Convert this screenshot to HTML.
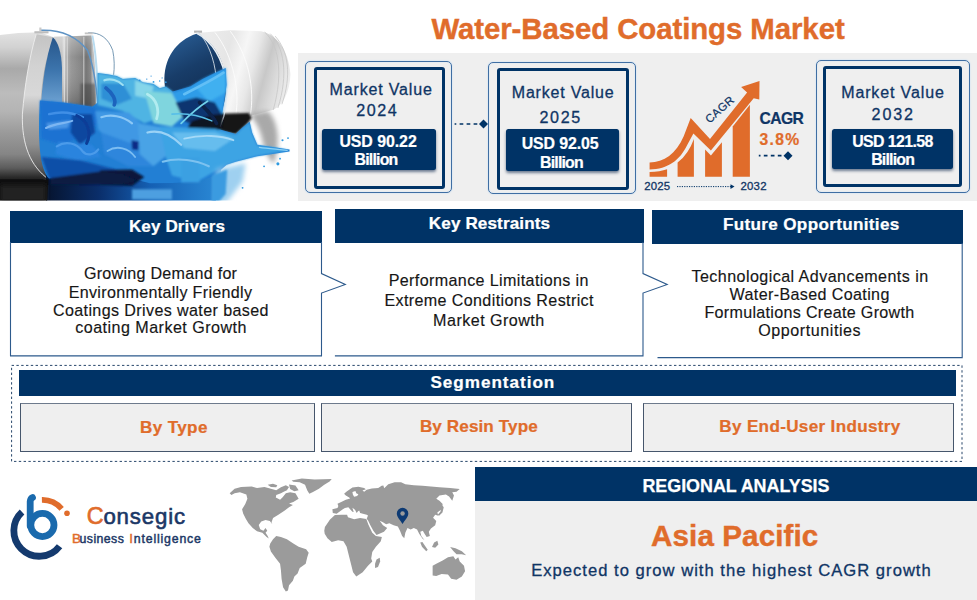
<!DOCTYPE html>
<html lang="en"><head><meta charset="utf-8"><title>Water-Based Coatings Market</title>
<style>
html,body{margin:0;padding:0;background:#fff;}
#pg{position:relative;width:977px;height:600px;overflow:hidden;background:#fff;font-family:"Liberation Sans",sans-serif;}
.t{position:absolute;white-space:nowrap;line-height:1;}
.a{position:absolute;box-sizing:border-box;}
.hd{background:#003366;}
.ob{border:1px solid #3f6ea3;border-radius:5px;box-shadow:0 0 1.5px rgba(170,212,250,.95),inset 0 0 1.5px rgba(170,212,250,.7);}
.ib{border:3px solid #003366;border-radius:3px;}
.vb{background:#003366;border-radius:2.5px;box-shadow:0 2px 3px rgba(0,30,70,.55);}
.sg{background:#efefef;border:1px solid #46566c;border-top-color:#6d7a8c;}
</style></head>
<body><div id="pg">
<svg class="a" style="left:0;top:0" width="300" height="202" viewBox="0 0 300 202">
<defs>
 <clipPath id="pc"><rect x="0" y="0" width="298" height="200.5"/></clipPath>
 <filter id="b0" x="-10%" y="-10%" width="120%" height="120%"><feGaussianBlur stdDeviation="1.2"/></filter>
 <filter id="b1" x="-10%" y="-10%" width="120%" height="120%"><feGaussianBlur stdDeviation="4"/></filter>
 <filter id="b2" x="-15%" y="-15%" width="130%" height="130%"><feGaussianBlur stdDeviation="8"/></filter>
 <filter id="b3" x="-30%" y="-30%" width="160%" height="160%"><feGaussianBlur stdDeviation="14"/></filter>
 <linearGradient id="gL" x1="0" y1="33" x2="0" y2="530" gradientUnits="userSpaceOnUse">
  <stop offset="0" stop-color="#e2e2e2"/><stop offset=".1" stop-color="#d2d2d2"/><stop offset=".24" stop-color="#a9a9a9"/>
  <stop offset=".4" stop-color="#bcbcbc"/><stop offset=".52" stop-color="#b4b4b4"/><stop offset=".66" stop-color="#9a9a9a"/>
  <stop offset=".8" stop-color="#858585"/><stop offset=".89" stop-color="#5c5c5c"/><stop offset=".95" stop-color="#2a2a2a"/><stop offset="1" stop-color="#0e0e0e"/>
 </linearGradient>
 <linearGradient id="gW" x1="0" y1="33" x2="0" y2="520" gradientUnits="userSpaceOnUse">
  <stop offset="0" stop-color="#c2c2c2"/><stop offset=".22" stop-color="#d2d2d2"/><stop offset=".42" stop-color="#d8d8d8"/>
  <stop offset=".56" stop-color="#ababab"/><stop offset=".75" stop-color="#909090"/><stop offset=".9" stop-color="#5e5e5e"/><stop offset="1" stop-color="#2a2a2a"/>
 </linearGradient>
 <linearGradient id="gI" x1="0" y1="50" x2="0" y2="260" gradientUnits="userSpaceOnUse">
  <stop offset="0" stop-color="#27568b"/><stop offset=".5" stop-color="#3c74ac"/><stop offset="1" stop-color="#6a9fd0"/>
 </linearGradient>
 <linearGradient id="gM" x1="202" y1="0" x2="302" y2="0" gradientUnits="userSpaceOnUse">
  <stop offset="0" stop-color="#c4c4c4"/><stop offset=".06" stop-color="#dcdcdc"/><stop offset=".14" stop-color="#acacac"/>
  <stop offset=".3" stop-color="#969696"/><stop offset=".6" stop-color="#858585"/><stop offset=".8" stop-color="#747474"/><stop offset=".93" stop-color="#858585"/><stop offset="1" stop-color="#bdbdbd"/>
 </linearGradient>
 <linearGradient id="gMv" x1="0" y1="45" x2="0" y2="275" gradientUnits="userSpaceOnUse">
  <stop offset="0" stop-color="#fff" stop-opacity=".3"/><stop offset=".3" stop-color="#fff" stop-opacity="0"/><stop offset="1" stop-color="#000" stop-opacity=".25"/>
 </linearGradient>
 <linearGradient id="gR" x1="650" y1="150" x2="940" y2="230" gradientUnits="userSpaceOnUse">
  <stop offset="0" stop-color="#ebebeb"/><stop offset=".25" stop-color="#e6e6e6"/><stop offset=".42" stop-color="#f6f6f6"/>
  <stop offset=".55" stop-color="#e8e8e8"/><stop offset=".7" stop-color="#c8c8c8"/><stop offset=".82" stop-color="#dadada"/><stop offset="1" stop-color="#f0f0f0"/>
 </linearGradient>
 <linearGradient id="gO" x1="560" y1="60" x2="700" y2="330" gradientUnits="userSpaceOnUse">
  <stop offset="0" stop-color="#27598f"/><stop offset=".35" stop-color="#183d69"/><stop offset="1" stop-color="#0c2242"/>
 </linearGradient>
 <linearGradient id="gF" x1="150" y1="0" x2="720" y2="0" gradientUnits="userSpaceOnUse">
  <stop offset="0" stop-color="#06142f"/><stop offset=".3" stop-color="#0a2e6a"/><stop offset=".6" stop-color="#1560b4"/><stop offset="1" stop-color="#2b8ad6"/>
 </linearGradient>
</defs>
<g clip-path="url(#pc)">
<g transform="translate(0 22) scale(0.30706)">
 <!-- left can body -->
 <path d="M0 42 L60 36 L130 33 L175 50 L205 120 V300 L160 512 L0 530 Z" fill="url(#gL)"/>
 <!-- inner wall band (between rim line and interior) -->
 <path d="M118 40 C96 110 80 210 73 300 C70 400 100 470 158 512 L170 500 C140 450 128 380 132 260 C136 190 150 110 172 50 Z" fill="url(#gW)"/>
 <path d="M118 40 C96 110 80 210 73 300 C70 400 100 470 158 512" fill="none" stroke="#ececec" stroke-width="3"/>
 <!-- middle can -->
 <path d="M176 48 L298 44 C310 110 312 200 312 278 L190 278 Z" fill="url(#gM)"/>
 <path d="M176 48 L298 44 C310 110 312 200 312 278 L190 278 Z" fill="url(#gMv)"/>
 <path d="M262 200 L310 200 L312 278 L262 278 Z" fill="#4a4a4a" opacity=".55" filter="url(#b1)"/>
 <path d="M210 50 V275 M219 50 V275 M273 48 V275" stroke="#e4e4e4" stroke-width="2.5" fill="none"/>
 <path d="M298 44 C312 110 314 200 313 278 L322 278 C322 200 318 110 304 44 Z" fill="#b9dcf0"/>
 <!-- left can interior -->
 <path d="M172 50 C150 115 136 200 132 300 L202 300 V150 C200 100 190 66 172 50 Z" fill="url(#gI)"/>
 <!-- handles -->
 <path d="M132 27 C200 24 250 48 285 92 C305 140 315 220 320 282" fill="none" stroke="#5f93c4" stroke-width="5"/>
 <path d="M287 35 C325 33 352 52 367 92 C373 120 373 150 370 172" fill="none" stroke="#7598b4" stroke-width="3.2"/>
 <rect x="112" y="30" width="46" height="7" fill="#bdbdbd"/><rect x="128" y="18" width="7" height="14" fill="#c9c9c9"/>
 <rect x="276" y="34" width="26" height="6" fill="#c4c4c4"/>

 <!-- right can body -->
 <path d="M640 36 L750 27 L850 30 C900 40 940 90 946 170 C944 230 920 272 890 286 L715 332 C722 250 700 120 650 40 Z" fill="url(#gR)"/>
 <g stroke="#c6c6c6" stroke-width="2.6" fill="none">
  <path d="M862 33 C905 70 925 160 890 286"/><path d="M880 38 C925 80 940 170 905 280"/><path d="M896 46 C940 95 950 175 918 268"/>
 </g>
 <g stroke="#fcfcfc" stroke-width="3" fill="none"><path d="M700 34 C760 110 785 230 765 318"/><path d="M750 30 C810 110 830 220 815 305"/></g>
 <rect x="632" y="28" width="26" height="7" fill="#b5b5b5"/>
 <!-- shadow + reflection under right can -->
 <path d="M812 300 L872 290 C905 320 915 390 892 462 C876 450 862 420 856 392 C850 360 838 330 812 300 Z" fill="#a9a9a9" filter="url(#b2)"/>
 <path d="M613 350 L628 320 L700 300 L740 298 L810 296 L820 312 L808 330 L788 350 L768 366 L700 358 Z" fill="#161616" filter="url(#b1)"/>
 <!-- right can opening -->
 <path d="M640 38 C575 58 530 120 536 200 C542 300 600 352 665 345 C720 335 745 250 733 170 C722 105 685 55 640 38 Z" fill="url(#gO)"/>
 <path d="M640 36 C690 62 728 120 737 200 C742 250 735 300 716 340" fill="none" stroke="#e9eef2" stroke-width="5"/>
 <path d="M643 32 C676 60 698 120 704 180 C708 230 708 260 706 290" fill="none" stroke="#cfd9e2" stroke-width="3"/>

 <!-- floor reflection -->
 <path d="M150 480 H720 L700 600 H150 Z" fill="url(#gF)"/>
 <!-- PAINT base -->
 <path d="M130 256 L205 262 L262 270 L300 276 L318 262 L318 166 L350 170 L380 176 L400 186 L440 182 L466 196 L500 202 L520 216 L540 210 L562 226 L620 210 L660 186 L700 166 L735 150 L738 205 L722 310 L700 345 L768 365 L788 345 L813 325 L821 360 L838 400 L888 407 L943 415 L943 422 L888 430 L838 437 L768 455 L738 465 L700 500 L640 520 L560 524 L488 525 L450 515 L400 496 L350 486 L250 490 L160 510 C120 470 126 330 130 256 Z" fill="#227fd4"/>
 <g filter="url(#b1)">
  <!-- C upper middle light -->
  <path d="M318 166 L380 176 L400 186 L440 182 L466 196 L500 202 L520 216 L540 210 L562 226 L560 300 L470 330 L400 290 L318 270 Z" fill="#4fb4e3"/>
  <path d="M330 200 L400 200 L430 250 L380 270 L330 250 Z" fill="#2f8fd6"/>
  <path d="M440 190 L500 210 L490 250 L440 240 Z" fill="#86d6ea"/>
  <!-- D cyan-green -->
  <path d="M470 225 L560 232 L610 218 L605 300 L560 340 L500 330 Z" fill="#7fd5de"/>
  <!-- E stream -->
  <path d="M560 232 L620 210 L660 186 L700 166 L735 150 L738 205 L722 310 L640 330 L595 300 Z" fill="#2f9ce8"/>
  <path d="M640 215 L735 160 L735 230 L680 260 Z" fill="#3fb0f0"/>
  <path d="M572 262 L640 246 L700 262 L722 300 L700 345 L640 340 L600 322 Z" fill="#0e3470"/>
  <path d="M606 352 L626 322 L690 303 L728 298 L722 345 L700 358 Z" fill="#0b1424"/>
  <!-- A left mass -->
  <path d="M130 256 L205 262 L300 276 L330 300 L300 360 L200 400 L135 380 Z" fill="#1c72d2"/>
  <path d="M235 300 L300 300 L310 360 L260 400 L230 360 Z" fill="#0e469f"/>
  <path d="M150 330 L230 320 L220 345 L160 350 Z" fill="#4b97e6"/>
  <path d="M190 390 L300 400 L330 440 L250 450 L180 430 Z" fill="#2a84de"/>
  <path d="M135 440 L260 450 L380 480 L300 500 L160 510 Z" fill="#0f4fa8"/>
  <!-- B middle -->
  <path d="M310 290 L420 295 L470 340 L450 410 L360 390 L320 350 Z" fill="#3f98e4"/>
  <path d="M330 360 L440 400 L500 470 L420 470 L340 430 Z" fill="#2f86dc"/>
  <path d="M428 385 L452 388 L450 418 L430 415 Z" fill="#0b2c86"/>
  <path d="M450 330 L540 345 L560 420 L500 470 L455 430 Z" fill="#4aa3e6"/>
  <!-- F right-lower -->
  <path d="M520 340 L700 348 L768 366 L788 347 L813 327 L821 362 L838 401 L888 408 L943 418 L838 436 L768 454 L738 465 L640 520 L560 500 L540 440 Z" fill="#3ea4e4"/>
  <path d="M560 360 L700 360 L760 380 L700 420 L600 410 Z" fill="#66bdee"/>
  <path d="M590 440 L650 440 L650 522 L590 522 Z" fill="#3aa0e2"/>
  <!-- dark under paint -->
  <path d="M326 482 L430 480 L470 505 L430 534 L326 530 Z" fill="#07183a"/>
  <path d="M165 508 L330 486 L400 496 L450 516 L400 528 L165 530 Z" fill="#071b42"/>
  <path d="M430 545 L560 545 L560 578 L430 578 Z" fill="#4d9fe0"/>
 </g>

 <!-- highlights / texture -->
 <g filter="url(#b0)" fill="none" stroke-linecap="round">
  <path d="M150 345 C180 330 215 330 235 322" stroke="#7db6f2" stroke-width="7"/>
  <path d="M160 300 C200 290 240 296 270 310" stroke="#3f8fe6" stroke-width="8"/>
  <path d="M185 405 C215 385 250 395 268 420 C285 440 310 430 320 415" stroke="#4c9bea" stroke-width="7"/>
  <path d="M330 310 C360 300 400 305 430 330" stroke="#8cc8f6" stroke-width="7"/>
  <path d="M350 420 C380 400 420 410 440 440" stroke="#7bbdf2" stroke-width="6"/>
  <path d="M480 360 C520 350 560 370 590 400" stroke="#9ad2f6" stroke-width="7"/>
  <path d="M600 380 C660 365 720 370 760 385" stroke="#a5daf8" stroke-width="6"/>
  <path d="M530 455 C580 440 640 450 680 470" stroke="#7cc2f0" stroke-width="7"/>
  <path d="M340 190 C360 182 385 190 400 205" stroke="#9fe0f2" stroke-width="7"/>
  <path d="M480 235 C510 250 520 285 510 315" stroke="#b2ecf0" stroke-width="9"/>
  <path d="M600 235 C640 215 690 190 728 165" stroke="#62bff6" stroke-width="9"/>
  <path d="M845 408 C870 412 900 414 935 418" stroke="#8fd2f6" stroke-width="4"/>
  <path d="M345 215 C365 230 380 255 372 270" stroke="#1f63bd" stroke-width="12"/>
  <path d="M250 305 C285 320 300 360 282 395" stroke="#0b3d97" stroke-width="10"/>
  <path d="M650 262 C670 285 690 300 705 330" stroke="#0a2248" stroke-width="12"/>
  <path d="M590 330 C620 300 640 280 676 258" stroke="#6fd0ea" stroke-width="6"/>
  <path d="M560 300 C600 296 640 300 690 322" stroke="#58bfe8" stroke-width="5"/>
 </g>
 <g fill="#2f93de"><circle cx="455" cy="190" r="3"/><circle cx="478" cy="186" r="2.4"/><circle cx="492" cy="176" r="2"/><circle cx="540" cy="196" r="3"/><circle cx="528" cy="182" r="2"/></g>
 <!-- black floor left -->
 <path d="M0 512 L158 512 L152 600 L0 600 Z" fill="#0e0e0f"/>
 <path d="M0 530 L150 530 L150 585 L0 585 Z" fill="#242424" filter="url(#b2)"/>
 <!-- splash reflection -->
 <path d="M705 480 L800 460 L790 520 L740 585 L700 600 Z" fill="#9fd0f0" filter="url(#b2)"/>
 <path d="M690 500 L740 480 L735 560 L700 600 L690 600 Z" fill="#3b9be0" filter="url(#b1)"/>
 <!-- droplets -->
 <g fill="#2e9ae0"><circle cx="905" cy="462" r="5"/><circle cx="912" cy="445" r="3"/><circle cx="920" cy="385" r="3.5"/><circle cx="938" cy="378" r="3"/><circle cx="860" cy="470" r="3"/><circle cx="500" cy="195" r="3"/><circle cx="520" cy="192" r="2.5"/><circle cx="790" cy="540" r="3"/></g>
</g>
</g>
</svg>

<div class="a " style="left:297.5px;top:53px;width:679.5px;height:147.5px;background:#efefef;"></div>
<div class="a ob" style="left:305px;top:61px;width:147.3px;height:132px;"></div>
<div class="a ib" style="left:313.5px;top:67.2px;width:131.0px;height:122.0px;"></div>
<div class="a vb" style="left:322.2px;top:128.8px;width:113.8px;height:40.9px;"></div>
<div class="a ob" style="left:488px;top:62px;width:148px;height:132px;"></div>
<div class="a ib" style="left:496.6px;top:67.7px;width:132.0px;height:122.0px;"></div>
<div class="a vb" style="left:505.8px;top:129.2px;width:113.6px;height:41.7px;"></div>
<div class="a ob" style="left:816px;top:60px;width:154px;height:132.6px;"></div>
<div class="a ib" style="left:823.2px;top:66.2px;width:138.8px;height:121.2px;"></div>
<div class="a vb" style="left:832px;top:128.8px;width:121.2px;height:40.7px;"></div>
<div class="a hd" style="left:10px;top:211.2px;width:312px;height:32.0px;"></div>
<div class="a hd" style="left:334.7px;top:208.8px;width:309.3px;height:34.4px;"></div>
<div class="a hd" style="left:652px;top:210px;width:310.7px;height:34px;"></div>
<div class="a hd" style="left:19px;top:370.2px;width:937.4px;height:26.0px;"></div>
<div class="a sg" style="left:20px;top:402.5px;width:295px;height:49.0px;"></div>
<div class="a sg" style="left:321.3px;top:402.5px;width:311.0px;height:49.0px;"></div>
<div class="a sg" style="left:643.3px;top:402.5px;width:310.7px;height:49.0px;"></div>
<div class="a hd" style="left:474.5px;top:467px;width:502.5px;height:34.2px;"></div>
<div class="a " style="left:474.5px;top:501.2px;width:502.5px;height:98.8px;background:#efefef;"></div>

<svg class="a" style="left:0;top:0" width="977" height="600" viewBox="0 0 977 600" fill="none">
 <!-- key boxes outlines -->
 <path d="M10.5 242 V355.9 H321.5 V293.1 L345.3 284.4 L321.5 273.6 V242" stroke="#2d5a8c" stroke-width="1.1"/>
 <path d="M334.9 355.9 H643 V293.1 L667.2 284.4 L643 273.6 V242" stroke="#2d5a8c" stroke-width="1.1"/>
 <path d="M657.5 357.6 H962.2 V243" stroke="#2d5a8c" stroke-width="1.1"/>
 <!-- dotted segmentation frame -->
 <rect x="11.6" y="365.4" width="950.4" height="96" stroke="#28476b" stroke-width="1" stroke-dasharray="2.4 2.4"/>
 <!-- connectors -->
 <path d="M454.6 124 H480" stroke="#003366" stroke-width="1.7" stroke-dasharray="1.7 3.3 3.7 3.3 3.7 3.3 3.7 3.3"/>
 <path d="M483.5 119.6 L488 124.1 L483.5 128.6 L479 124.1 Z" fill="#003366"/>
 <path d="M758.8 155.7 H784" stroke="#003366" stroke-width="1.7" stroke-dasharray="1.7 3.3 3.7 3.3 3.7 3.3 3.7 3.3"/>
 <path d="M788 151.2 L792.5 155.7 L788 160.2 L783.5 155.7 Z" fill="#003366"/>
 <path d="M677 186.6 H731" stroke="#003366" stroke-width="1" stroke-dasharray="1.2 1.2"/>
 <path d="M730.5 184.2 L734.5 186.6 L730.5 189 Z" fill="#003366"/>
</svg>

<svg class="a" style="left:0;top:0" width="977" height="600" viewBox="0 0 977 600">
 <g fill="#e06c2b">
  <path d="M649.6 176.8 V172.1 Q660 171.8 667.1 169.3 V176.8 Z"/>
  <path d="M677.6 176.8 V162.6 Q688.5 154 693.9 138.9 V176.8 Z"/>
  <path d="M705.1 176.8 V149.4 L710.9 155.6 L721.9 142.2 V176.8 Z"/>
  <path d="M732.7 176.8 V126.6 L749.9 104.7 V176.8 Z"/>
  <path d="M649.6 162.5 C664 162.3 676 154 683.7 136.2 L690.7 117.9 L710 138.9 L747.1 92.5 L741.1 86.9 L759.5 81.1 L759.3 99.5 L753.7 98.3 L710.9 150.6 L693.4 133.6 L687.2 145 C680 160 668 169.3 649.6 169.5 Z"/>
 </g>
 <text transform="translate(722.3 112.4) rotate(-41.5)" text-anchor="middle" font-family="Liberation Sans, sans-serif" font-size="11.4" letter-spacing="0.4" fill="#0f3565" stroke="#0f3565" stroke-width="0.2">CAGR</text>
</svg>

<svg class="a" style="left:0;top:0" width="977" height="600" viewBox="0 0 977 600" fill="none">
 <path d="M22.04 512.10 A25.45 25.45 0 0 0 21.30 548.80 A25.45 25.45 0 0 0 59.57 546.19" stroke="#143a6e" stroke-width="6.8" stroke-linecap="butt"/>
 <circle cx="42.4" cy="525" r="11.6" stroke="#1a6aad" stroke-width="6.8"/>
 <path d="M30.2 526 V501.5 Q30.5 498.5 32.5 497.6" stroke="#1a6aad" stroke-width="6.8" stroke-linecap="round"/>
 <path d="M41.9 499.9 A25.1 25.1 0 0 1 61.6 508.9" stroke="#e06c2b" stroke-width="5.8"/>
 <circle cx="67" cy="513.3" r="2.8" fill="#e06c2b"/>
</svg>

<svg class="a" style="left:0;top:0" width="977" height="600" viewBox="0 0 977 600">
 <g fill="#9b9b9b" transform="translate(225 472) scale(0.21346)">
  <!-- North America -->
  <path d="M22 100 L45 78 L75 70 L125 68 L150 75 L185 70 L215 78 L240 85 L262 72 L285 62 L300 70 L290 85 L275 92 L262 100 L240 108 L238 120 L258 130 L270 118 L285 100 L305 95 L330 100 L345 125 L320 140 L300 148 L318 155 L300 165 L280 180 L250 200 L225 215 L218 235 L222 245 L210 230 L190 225 L170 232 L158 248 L165 268 L180 275 L190 262 L198 275 L190 285 L200 300 L205 312 L195 305 L175 285 L150 278 L130 262 L110 240 L98 220 L85 195 L80 175 L95 150 L105 125 L100 105 L70 95 L45 100 L30 108 Z"/>
  <path d="M200 60 L225 55 L245 62 L240 72 L215 70 Z"/>
  <path d="M300 58 L330 63 L345 85 L325 90 L305 80 Z"/>
  <!-- Greenland -->
  <path d="M312 40 L360 30 L420 35 L500 33 L490 45 L465 60 L440 78 L410 95 L395 102 L385 85 L375 60 L350 48 L320 46 Z"/>
  <!-- South America -->
  <path d="M212 335 L225 315 L240 300 L262 305 L290 315 L320 335 L345 350 L380 362 L392 378 L385 400 L378 430 L350 450 L340 475 L325 490 L318 510 L300 530 L295 555 L285 560 L272 540 L265 500 L262 460 L258 430 L235 400 L215 372 L208 350 Z"/>
 </g>
 <g fill="#9b9b9b" transform="translate(320 472) scale(0.21333)">
  <!-- Africa -->
  <path d="M20 275 L23 258 L47 223 L70 202 L102 200 L127 200 L131 212 L160 221 L188 216 L217 220 L227 247 L245 285 L262 300 L290 305 L285 325 L262 350 L245 375 L240 405 L245 420 L225 440 L200 470 L170 490 L155 470 L145 430 L135 390 L125 350 L110 325 L85 320 L55 328 L35 310 L22 290 Z"/>
  <path d="M265 410 L280 402 L282 420 L272 445 L258 450 L258 430 Z"/>
  <!-- Eurasia -->
  <path d="M60 192 L58 175 L82 169 L86 159 L82 149 L102 139 L121 130 L141 124 L137 120 L121 110 L113 102 L125 91 L152 73 L180 69 L207 75 L215 81 L199 87 L207 93 L219 83 L243 77 L273 75 L289 65 L297 63 L301 76 L320 58 L350 48 L380 48 L400 58 L440 62 L480 65 L520 68 L560 72 L610 75 L655 80 L640 92 L620 95 L628 110 L620 135 L605 115 L590 105 L560 110 L545 125 L560 135 L575 150 L570 175 L550 190 L555 205 L540 200 L530 215 L545 230 L540 250 L520 265 L510 280 L515 300 L500 305 L490 290 L482 275 L470 280 L475 300 L490 320 L480 312 L465 290 L455 270 L440 262 L425 270 L410 262 L400 285 L395 310 L385 300 L375 275 L365 255 L345 250 L325 240 L310 245 L295 235 L280 228 L295 250 L315 262 L300 280 L265 295 L250 275 L236 250 L226 228 L219 219 L225 204 L219 200 L188 192 L184 181 L178 184 L172 192 L164 177 L152 168 L158 188 L152 186 L141 175 L133 165 L117 169 L107 175 L94 184 L78 196 Z"/>
  <path d="M152 94 L166 89 L170 100 L180 104 L174 112 L160 116 L154 106 Z" fill="#fff"/>
  <path d="M568 150 L580 165 L574 190 L558 205 L552 200 L565 185 L568 165 Z"/>
  <path d="M535 330 L550 322 L555 340 L540 355 L525 352 Z"/>
  <path d="M470 330 L480 328 L505 365 L498 372 L478 350 Z"/>
  <path d="M610 352 L635 358 L665 372 L685 390 L665 385 L640 385 L625 370 Z"/>
  <!-- Australia -->
  <path d="M528 440 L545 430 L575 415 L600 400 L625 395 L635 410 L648 400 L655 420 L675 440 L680 465 L665 490 L640 505 L615 500 L600 480 L570 478 L545 488 L528 485 Z"/>
 </g>
 <!-- pin -->
 <g transform="translate(320 472) scale(0.21333)">
  <path d="M387 244 C375 225 360 212 360 195 A27 27 0 0 1 414 195 C414 212 399 225 387 244 Z" fill="#0d3a73"/>
  <circle cx="387" cy="194" r="10.5" fill="#9b9b9b"/>
 </g>
</svg>

<div class="t" style="left:431.4px;top:14.4px;font-size:29.4px;letter-spacing:-0.08px;color:#e06c2b;font-weight:700;-webkit-text-stroke:0.41px #e06c2b;">Water-Based Coatings Market</div>
<div class="t" style="left:329.6px;top:81.6px;font-size:16.0px;letter-spacing:0.83px;color:#0f3565;-webkit-text-stroke:0.3px #0f3565;">Market Value</div>
<div class="t" style="left:356.3px;top:102.2px;font-size:16.1px;letter-spacing:1.56px;color:#0f3565;-webkit-text-stroke:0.3px #0f3565;">2024</div>
<div class="t" style="left:339.4px;top:133.8px;font-size:15.9px;letter-spacing:-0.05px;color:#fff;font-weight:700;-webkit-text-stroke:0.22px #fff;">USD 90.22</div>
<div class="t" style="left:354.5px;top:151.6px;font-size:15.9px;letter-spacing:-0.79px;color:#fff;font-weight:700;-webkit-text-stroke:0.22px #fff;">Billion</div>
<div class="t" style="left:511.8px;top:85.3px;font-size:16.0px;letter-spacing:0.80px;color:#0f3565;-webkit-text-stroke:0.3px #0f3565;">Market Value</div>
<div class="t" style="left:539.5px;top:108.5px;font-size:16.1px;letter-spacing:1.66px;color:#0f3565;-webkit-text-stroke:0.3px #0f3565;">2025</div>
<div class="t" style="left:521.7px;top:136.4px;font-size:15.9px;letter-spacing:-0.09px;color:#fff;font-weight:700;-webkit-text-stroke:0.22px #fff;">USD 92.05</div>
<div class="t" style="left:540.1px;top:154.5px;font-size:15.9px;letter-spacing:-0.83px;color:#fff;font-weight:700;-webkit-text-stroke:0.22px #fff;">Billion</div>
<div class="t" style="left:841.2px;top:85.0px;font-size:16.0px;letter-spacing:0.87px;color:#0f3565;-webkit-text-stroke:0.3px #0f3565;">Market Value</div>
<div class="t" style="left:871.6px;top:106.4px;font-size:16.1px;letter-spacing:1.86px;color:#0f3565;-webkit-text-stroke:0.3px #0f3565;">2032</div>
<div class="t" style="left:852.2px;top:133.8px;font-size:15.9px;letter-spacing:-0.61px;color:#fff;font-weight:700;-webkit-text-stroke:0.22px #fff;">USD 121.58</div>
<div class="t" style="left:871.2px;top:151.6px;font-size:15.9px;letter-spacing:-0.81px;color:#fff;font-weight:700;-webkit-text-stroke:0.22px #fff;">Billion</div>
<div class="t" style="left:759.5px;top:110.9px;font-size:15.7px;letter-spacing:-0.60px;color:#0f3565;font-weight:700;-webkit-text-stroke:0.22px #0f3565;">CAGR</div>
<div class="t" style="left:759.5px;top:131.9px;font-size:15.7px;letter-spacing:1.31px;color:#e06c2b;font-weight:700;-webkit-text-stroke:0.22px #e06c2b;">3.8%</div>
<div class="t" style="left:644.2px;top:180.6px;font-size:11.4px;letter-spacing:0.22px;color:#0f3565;-webkit-text-stroke:0.3px #0f3565;">2025</div>
<div class="t" style="left:740.5px;top:180.6px;font-size:11.4px;letter-spacing:0.22px;color:#0f3565;-webkit-text-stroke:0.3px #0f3565;">2032</div>
<div class="t" style="left:128.9px;top:217.5px;font-size:17.1px;letter-spacing:0.10px;color:#fff;font-weight:700;-webkit-text-stroke:0.24px #fff;">Key Drivers</div>
<div class="t" style="left:428.8px;top:214.9px;font-size:17.1px;letter-spacing:0.12px;color:#fff;font-weight:700;-webkit-text-stroke:0.24px #fff;">Key Restraints</div>
<div class="t" style="left:723.0px;top:215.8px;font-size:17.1px;letter-spacing:0.33px;color:#fff;font-weight:700;-webkit-text-stroke:0.24px #fff;">Future Opportunities</div>
<div class="t" style="left:430.4px;top:374.4px;font-size:17.1px;letter-spacing:0.99px;color:#fff;font-weight:700;-webkit-text-stroke:0.24px #fff;">Segmentation</div>
<div class="t" style="left:83.9px;top:265.2px;font-size:16.1px;letter-spacing:0.27px;color:#161616;-webkit-text-stroke:0.15px #161616;">Growing Demand for</div>
<div class="t" style="left:68.7px;top:283.6px;font-size:16.1px;letter-spacing:0.31px;color:#161616;-webkit-text-stroke:0.15px #161616;">Environmentally Friendly</div>
<div class="t" style="left:52.9px;top:301.6px;font-size:16.1px;letter-spacing:0.38px;color:#161616;-webkit-text-stroke:0.15px #161616;">Coatings Drives water based</div>
<div class="t" style="left:75.3px;top:318.8px;font-size:16.1px;letter-spacing:0.46px;color:#161616;-webkit-text-stroke:0.15px #161616;">coating Market Growth</div>
<div class="t" style="left:388.7px;top:271.6px;font-size:16.1px;letter-spacing:0.37px;color:#161616;-webkit-text-stroke:0.15px #161616;">Performance Limitations in</div>
<div class="t" style="left:384.4px;top:291.6px;font-size:16.1px;letter-spacing:0.37px;color:#161616;-webkit-text-stroke:0.15px #161616;">Extreme Conditions Restrict</div>
<div class="t" style="left:433.1px;top:312.3px;font-size:16.1px;letter-spacing:0.47px;color:#161616;-webkit-text-stroke:0.15px #161616;">Market Growth</div>
<div class="t" style="left:691.5px;top:268.1px;font-size:16.1px;letter-spacing:0.43px;color:#161616;-webkit-text-stroke:0.15px #161616;">Technological Advancements in</div>
<div class="t" style="left:729.6px;top:285.9px;font-size:16.1px;letter-spacing:0.36px;color:#161616;-webkit-text-stroke:0.15px #161616;">Water-Based Coating</div>
<div class="t" style="left:704.4px;top:303.9px;font-size:16.1px;letter-spacing:0.31px;color:#161616;-webkit-text-stroke:0.15px #161616;">Formulations Create Growth</div>
<div class="t" style="left:758.3px;top:321.7px;font-size:16.1px;letter-spacing:0.55px;color:#161616;-webkit-text-stroke:0.15px #161616;">Opportunities</div>
<div class="t" style="left:139.9px;top:418.5px;font-size:17.1px;letter-spacing:0.39px;color:#e06c2b;font-weight:700;-webkit-text-stroke:0.24px #e06c2b;">By Type</div>
<div class="t" style="left:419.9px;top:417.7px;font-size:17.1px;letter-spacing:0.11px;color:#e06c2b;font-weight:700;-webkit-text-stroke:0.24px #e06c2b;">By Resin Type</div>
<div class="t" style="left:719.3px;top:417.8px;font-size:17.1px;letter-spacing:0.33px;color:#e06c2b;font-weight:700;-webkit-text-stroke:0.24px #e06c2b;">By End-User Industry</div>
<div class="t" style="left:642.4px;top:477.6px;font-size:17.9px;letter-spacing:-0.01px;color:#fff;font-weight:700;-webkit-text-stroke:0.25px #fff;">REGIONAL ANALYSIS</div>
<div class="t" style="left:651.1px;top:520.5px;font-size:29.6px;letter-spacing:0.09px;color:#e06c2b;font-weight:700;-webkit-text-stroke:0.41px #e06c2b;">Asia Pacific</div>
<div class="t" style="left:531.2px;top:562.7px;font-size:16.6px;letter-spacing:1.01px;color:#0f3565;-webkit-text-stroke:0.3px #0f3565;">Expected to grow with the highest CAGR growth</div>
<div class="t" style="left:86.8px;top:505.0px;font-size:23.4px;letter-spacing:0.00px;color:#e06c2b;-webkit-text-stroke:0.6px #e06c2b;">C</div>
<div class="t" style="left:103.4px;top:506.0px;font-size:22.2px;letter-spacing:0.87px;color:#1b3766;-webkit-text-stroke:0.6px #1b3766;">onsegic</div>
<div class="t" style="left:71.9px;top:531.5px;font-size:13.6px;letter-spacing:0.00px;color:#e06c2b;-webkit-text-stroke:0.45px #e06c2b;">B</div>
<div class="t" style="left:79.6px;top:532.6px;font-size:12.3px;letter-spacing:0.42px;color:#1b3766;-webkit-text-stroke:0.45px #1b3766;">usiness</div>
<div class="t" style="left:129.2px;top:531.5px;font-size:13.6px;letter-spacing:0.00px;color:#e06c2b;-webkit-text-stroke:0.45px #e06c2b;">I</div>
<div class="t" style="left:133.8px;top:532.6px;font-size:12.3px;letter-spacing:0.83px;color:#1b3766;-webkit-text-stroke:0.45px #1b3766;">ntelligence</div>
</div></body></html>
